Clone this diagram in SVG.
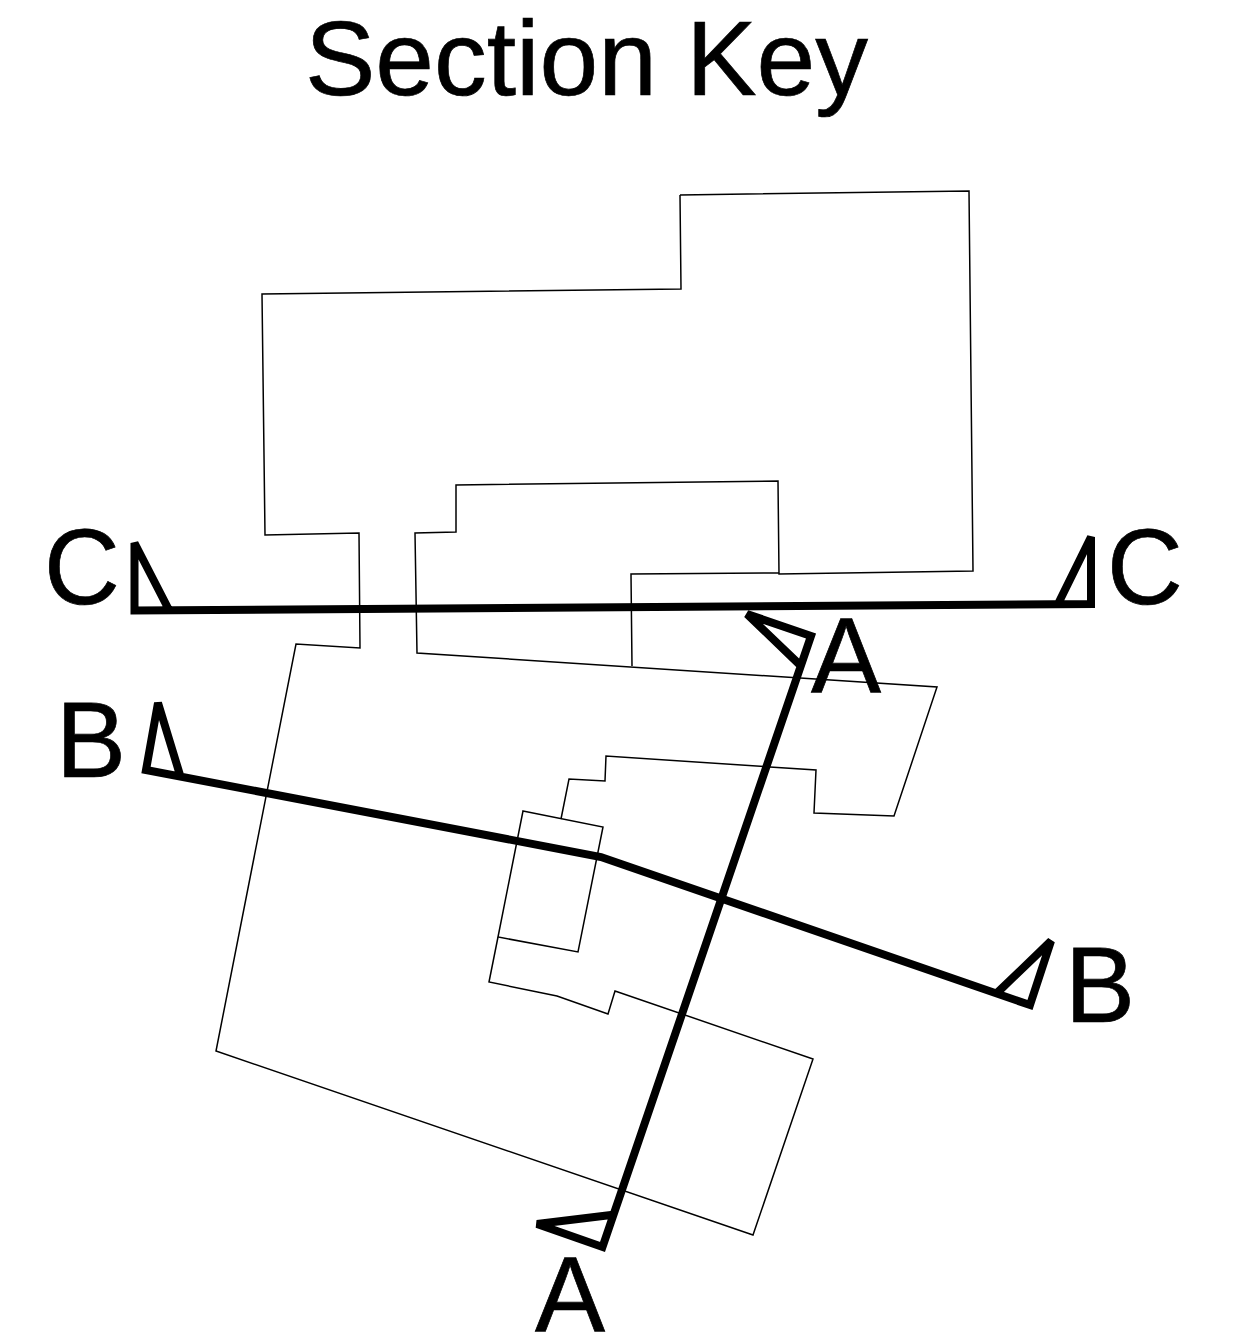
<svg xmlns="http://www.w3.org/2000/svg" width="1235" height="1343" viewBox="0 0 1235 1343">
<style>
text{font-family:"Liberation Sans",Arial,sans-serif;font-size:105px;fill:#000;stroke:#000;stroke-width:.7}
.thin{fill:none;stroke:#000;stroke-width:1.5;stroke-linejoin:miter}
.cut{fill:none;stroke:#000;stroke-width:8;stroke-linejoin:miter;stroke-miterlimit:2}
</style>
<rect width="1235" height="1343" fill="#fff"/>
<text id="title" x="305" y="95" style="font-size:105.500px">Section Key</text>
<g id="plan">
<path class="thin" d="M680,195 L969,191 L973,571 L779,574 L778,481 L456,485 L456,532 L415,533 L417,653 L937,687 L894,816 L814,813 L816,770 L606,756 L605,781 L569,779 L561,819"/>
<path class="thin" d="M779,573 L631,574 L632,666"/>
<path class="thin" d="M523,811 L603,827 L578,952 L498,937 Z"/>
<path class="thin" d="M498,937 L489,982 L557,996 L608,1014 L615,991 L813,1059 L753,1235 L216,1051 L296,644 L360,648 L359,533 L265,535 L262,294 L681,289 L680,195"/>
</g>
<g id="connectors">
<path id="section-c" class="cut" d="M169,610 L134.500,543 V610.500 L1091,604 V537 L1058,604"/>
<path id="section-b" class="cut" d="M180,775 L158,703 L146,770 L601,857 L1030,1005 L1051,941 L998,992"/>
<path id="section-a" class="cut" d="M800,665 L747,614 L811,636 L602.500,1247 L537,1224 L611,1215"/>
</g>
<g id="label-c-left"><text transform="translate(44,604) scale(1,1.03)">C</text></g>
<g id="label-c-right"><text transform="translate(1107,604) scale(1,1.03)">C</text></g>
<g id="label-b-left"><text transform="translate(56,777) scale(1,1.03)">B</text></g>
<g id="label-b-right"><text transform="translate(1065,1022) scale(1,1.03)">B</text></g>
<g id="label-a-top"><text transform="translate(811,693) scale(1,1.03)">A</text></g>
<g id="label-a-bottom"><text transform="translate(535,1332) scale(1,1.03)">A</text></g>
</svg>
